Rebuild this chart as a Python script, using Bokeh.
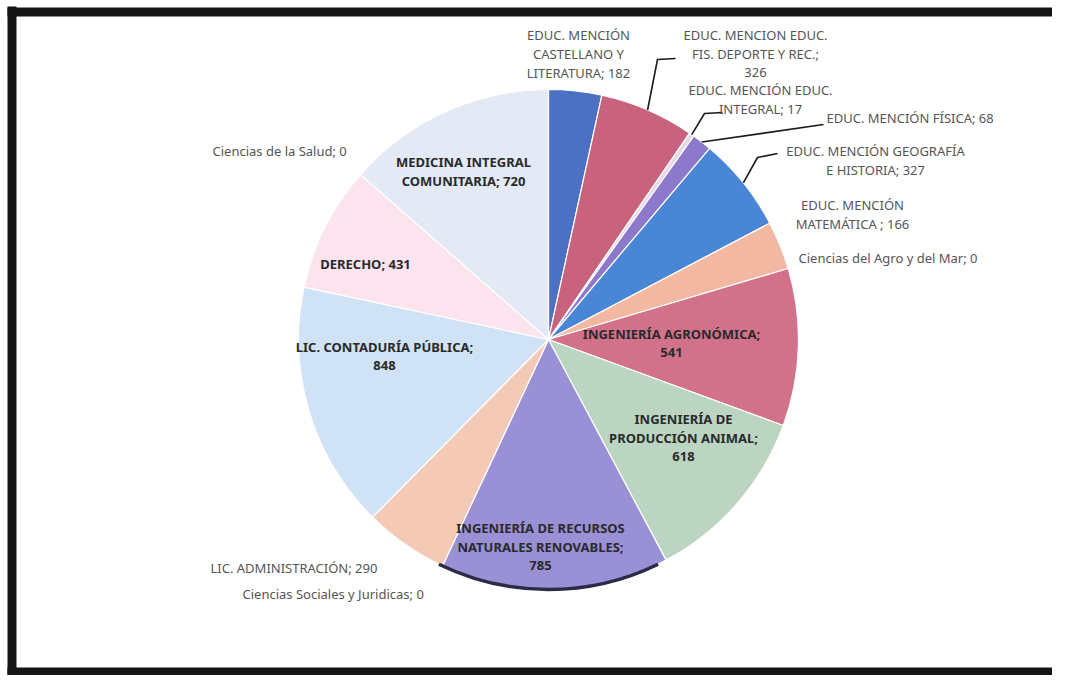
import math
from bokeh.plotting import figure
from bokeh.models import Range1d
from bokeh.embed import file_html
from bokeh.resources import INLINE
from bokeh.core.properties import value

# ---------------- data ----------------
categories = [
    "EDUC. MENCIÓN\nCASTELLANO Y\nLITERATURA",
    "EDUC. MENCION EDUC.\nFIS. DEPORTE Y REC.",
    "EDUC. MENCIÓN EDUC.\nINTEGRAL",
    "EDUC. MENCIÓN FÍSICA",
    "EDUC. MENCIÓN GEOGRAFÍA\nE HISTORIA",
    "EDUC. MENCIÓN\nMATEMÁTICA ",
    "Ciencias del Agro y del Mar",
    "INGENIERÍA AGRONÓMICA",
    "INGENIERÍA DE\nPRODUCCIÓN ANIMAL",
    "INGENIERÍA DE RECURSOS\nNATURALES RENOVABLES",
    "LIC. ADMINISTRACIÓN",
    "Ciencias Sociales y Juridicas",
    "LIC. CONTADURÍA PÚBLICA",
    "DERECHO",
    "MEDICINA INTEGRAL\nCOMUNITARIA",
    "Ciencias de la Salud",
]
values = [182, 326, 17, 68, 327, 166, 0, 541, 618, 785, 290, 0, 848, 431, 720, 0]
# how the value is appended to the name: same line ("; v") or next line (";\nv")
value_sep = ["; ", ";\n", "; ", "; ", "; ", "; ", "; ", ";\n", ";\n", ";\n", "; ", "; ", ";\n", "; ", "; ", "; "]

# ---------------- styles / layout ----------------
colors = ["#4b70c4", "#c8627d", "#e6d6e8", "#8c79cc", "#4a86d6", "#f2b8a2",
          "#ffffff", "#d2728a", "#bcd5c2", "#9a90d6", "#f4c9b6", "#ffffff",
          "#d0e2f5", "#fbe4ee", "#e3eaf5", "#ffffff"]

FW, FH = 1052, 675
def sy(y):
    return FH - y

CX, CY, R = 548, sy(339), 250

# label layout: (x, first-line screen y, align, inside)
label_layout = [
    (578, 34, "center", False),
    (755, 34, "center", False),
    (760, 89, "center", False),
    (826, 117, "left", False),
    (875, 150, "center", False),
    (852, 204, "center", False),
    (798, 257, "left", False),
    (671, 333, "center", True),
    (683, 418, "center", True),
    (540, 527, "center", True),
    (210, 567, "left", False),
    (242, 593, "left", False),
    (384, 346, "center", True),
    (365, 263, "center", True),
    (463, 161, "center", True),
    (212, 150, "left", False),
]
LINE_STEP = 19

# leader lines (after the start point on the pie edge): screen points
leaders = {
    1: [(657, 59), (675, 58)],
    2: [(704, 113), (722, 112)],
    3: [(823, 124)],
    4: [(757, 157), (777, 153)],
}

p = figure(width=FW, height=FH, x_range=Range1d(0, FW), y_range=Range1d(0, FH),
           output_backend="svg", toolbar_location=None, min_border=0,
           x_axis_type=None, y_axis_type=None)
p.grid.visible = False
p.outline_line_color = None
p.background_fill_color = "white"
p.border_fill_color = "white"

total = sum(values)
cum = 0
mids = []
for i, v in enumerate(values):
    a0 = math.pi / 2 - 2 * math.pi * cum / total
    cum += v
    a1 = math.pi / 2 - 2 * math.pi * cum / total
    mids.append((a0 + a1) / 2)
    if v > 0:
        p.wedge(x=CX, y=CY, radius=R, start_angle=a0, end_angle=a1, direction="clock",
                fill_color=colors[i], line_color="white", line_width=1.2)

# dark lower rim (scan shadow)
p.arc(x=CX, y=CY, radius=R, start_angle=math.radians(244), end_angle=math.radians(296),
      line_color="#2b2b45", line_width=3.5)

# leader lines
for i, pts in leaders.items():
    a = mids[i]
    xs = [CX + R * math.cos(a)] + [pt[0] for pt in pts]
    ys = [CY + R * math.sin(a)] + [sy(pt[1]) for pt in pts]
    p.line(xs, ys, line_color="#1a1a1a", line_width=1.6)

# labels
for i, (name, v) in enumerate(zip(categories, values)):
    x, y0, align, inside = label_layout[i]
    text = name + value_sep[i] + str(v)
    for k, line in enumerate(text.split("\n")):
        if inside:
            p.text(x=[x], y=[sy(y0 + k * LINE_STEP)], text=[line],
                   text_font=value("Noto Sans"), text_font_size="13px", text_font_style="bold",
                   text_color="#2a2a2a", text_align=align, text_baseline="middle")
        else:
            p.text(x=[x], y=[sy(y0 + k * LINE_STEP)], text=[line],
                   text_font=value("Noto Sans"), text_font_size="13px",
                   text_color="#555555", text_align=align, text_baseline="middle")

# scanned frame
p.line([11.5, 11.5], [sy(6), sy(675)], line_color="#151515", line_width=9)
p.line([7, FW], [sy(11.5), sy(11.5)], line_color="#151515", line_width=9)
p.line([7, FW], [sy(671), sy(671)], line_color="#151515", line_width=8)

open("out.html", "w").write(file_html(p, INLINE))
